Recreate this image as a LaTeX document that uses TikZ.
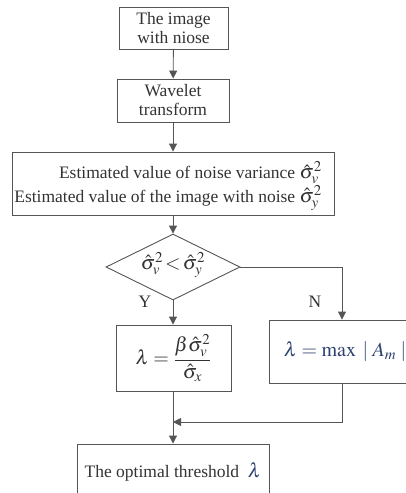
\documentclass[tikz,border=0pt]{standalone}
\usepackage{mathptmx}
\usepackage[no-math]{fontspec}
\setmainfont{Liberation Serif}
\DeclareMathSizes{17.5}{20}{15}{12}
\usetikzlibrary{shapes.geometric,arrows.meta}
\definecolor{txt}{HTML}{333333}
\definecolor{ln}{HTML}{555555}
\definecolor{mblue}{HTML}{2E4170}
\begin{document}
\begin{tikzpicture}[x=1pt,y=-1pt,
  every node/.style={text=txt,font=\fontsize{17.5}{19}\selectfont},
  box/.style={draw=ln,line width=0.9pt,rectangle,inner sep=0pt,align=center},
  arr/.style={draw=ln,line width=0.9pt,-{Triangle[length=8pt,width=8pt]}},
  ln/.style={draw=ln,line width=0.9pt}]
\clip (0,0) rectangle (406,493);
\useasboundingbox (0,0) rectangle (406,493);
\node[box,minimum width=109,minimum height=42] (b1) at (173.5,28) {The image\\with niose};
\node[box,minimum width=112,minimum height=43] (b2) at (173,100.5) {Wavelet\\transform};
\node[box,minimum width=322,minimum height=63] (b3) at (173,183.5) {};
\node[anchor=east,align=right,inner sep=0pt,font=\fontsize{17.5}{16}\selectfont] (t3) at (322,186)
  {\lineskiplimit=-20pt Estimated value of noise variance $\hat{\sigma}_v^2$\\Estimated value of the image with noise $\hat{\sigma}_y^2$};
\node[diamond,draw=ln,line width=0.9pt,minimum width=134,minimum height=66,inner sep=0pt] (d) at (173,267) {};
\node[inner sep=0pt] (dt) at (173,265) {$\hat{\sigma}_v^2\!<\!\hat{\sigma}_y^2$};
\node (y) at (145,302) {Y};
\node (n) at (315,302) {N};
\node[box,minimum width=115,minimum height=66] (bl) at (173.5,358) {$\displaystyle\lambda=\frac{\beta\hat{\sigma}_v^2}{\hat{\sigma}_x}$};
\node[box,minimum width=146,minimum height=63] (br) at (342,351.5) {\hspace*{6pt}\color{mblue}$\lambda=\max\;|\;A_m\;|$};
\node[box,minimum width=192,minimum height=56] (bb) at (173,472) {The optimal threshold\enspace{\color{mblue}$\lambda$}};
\coordinate (m) at (173,422);
\draw[arr] (b1) -- (b2);
\draw[arr] (b2) -- (b3);
\draw[arr] (b3.south -| d.north) -- (d.north);
\draw[arr] (d.south) -- (bl.north -| d.south);
\draw[arr] (d.east) -| (br.north);
\draw[arr] (br.south) |- (m);
\draw[arr] (bl.south -| m) -- (bb.north -| m);
\end{tikzpicture}
\end{document}
